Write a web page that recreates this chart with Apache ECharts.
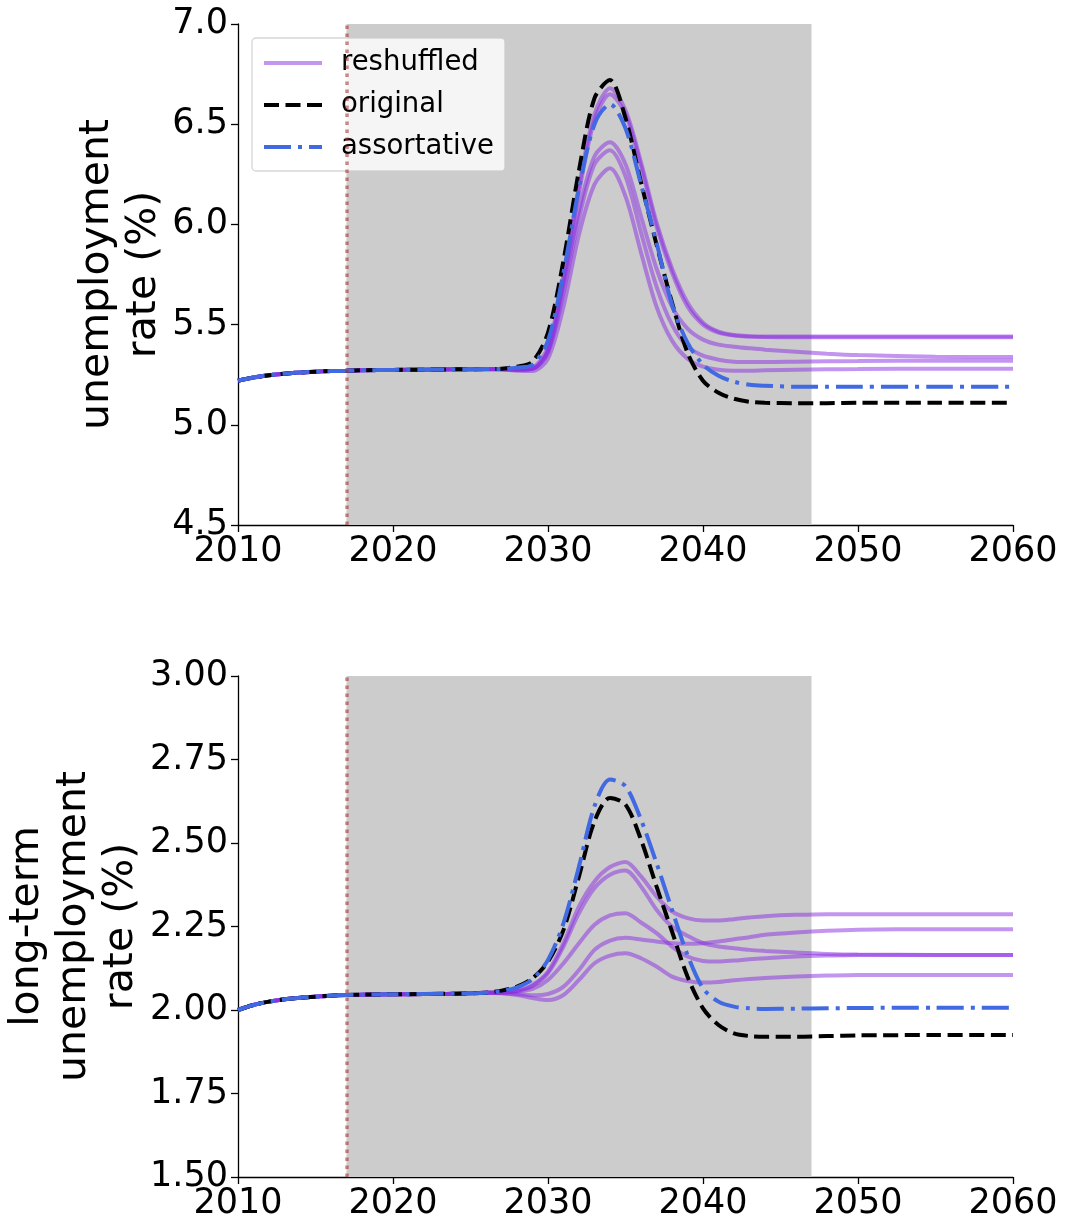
<!DOCTYPE html>
<html>
<head>
<meta charset="utf-8">
<script src="https://cdn.jsdelivr.net/npm/echarts@6/dist/echarts.min.js"></script>
<style>
html,body{margin:0;padding:0;background:#fff;}
#chart{width:1068px;height:1232px;}
</style>
</head>
<body>
<div id="chart"></div>
<script>
// ---------------- data ----------------
const years = [2010,2011,2012,2013,2014,2015,2016,2017,2018,2020,2022,2024,2026,
  2027,2028,2029,2030,2031,2032,2033,2034,2035,2036,2037,2038,2039,2040,2041,2042,2043,2044,
  2046,2048,2050,2055,2060];

// top panel: unemployment rate (%)
const topBase = [5.220,5.236,5.247,5.255,5.261,5.265,5.268,5.270,5.272,5.274,5.275,5.277,5.278];
const topReshuffled1 = topBase.concat([5.278,5.278,5.285,5.39,5.74,6.19,6.55,6.68,6.57,6.31,6.01,5.78,5.61,5.51,5.465,5.448,5.442,5.44,5.44,5.44,5.44,5.44,5.44]);
const topReshuffled2 = topBase.concat([5.278,5.276,5.280,5.37,5.72,6.16,6.52,6.65,6.55,6.29,5.99,5.76,5.59,5.50,5.46,5.445,5.44,5.438,5.437,5.437,5.437,5.437,5.437]);
const topReshuffled3 = topBase.concat([5.277,5.275,5.280,5.37,5.69,6.07,6.34,6.41,6.30,6.04,5.78,5.59,5.48,5.425,5.40,5.39,5.382,5.375,5.365,5.355,5.348,5.34,5.338]);
const topReshuffled4 = topBase.concat([5.277,5.274,5.278,5.36,5.66,6.03,6.30,6.37,6.24,5.96,5.69,5.50,5.39,5.345,5.325,5.315,5.313,5.313,5.315,5.317,5.318,5.32,5.32]);
const topReshuffled5 = topBase.concat([5.276,5.270,5.268,5.33,5.59,5.95,6.20,6.28,6.14,5.86,5.59,5.42,5.33,5.29,5.275,5.27,5.27,5.272,5.275,5.277,5.278,5.28,5.28]);
const topOriginal = topBase.concat([5.280,5.290,5.315,5.46,5.82,6.27,6.63,6.72,6.53,6.21,5.90,5.61,5.36,5.22,5.16,5.13,5.115,5.11,5.108,5.108,5.11,5.11,5.11]);
const topAssortative = topBase.concat([5.279,5.285,5.300,5.42,5.76,6.18,6.50,6.60,6.48,6.20,5.91,5.60,5.41,5.30,5.245,5.215,5.20,5.195,5.19,5.19,5.19,5.19,5.19]);

// bottom panel: long-term unemployment rate (%)
const botBase = [2.000,2.015,2.025,2.032,2.037,2.040,2.043,2.045,2.046,2.047,2.048,2.049,2.052];
const botReshuffled1 = botBase.concat([2.053,2.058,2.075,2.115,2.20,2.31,2.385,2.428,2.443,2.40,2.34,2.295,2.275,2.268,2.268,2.272,2.277,2.281,2.285,2.287,2.287,2.287,2.287]);
const botReshuffled2 = botBase.concat([2.053,2.057,2.072,2.11,2.19,2.29,2.365,2.405,2.418,2.37,2.30,2.25,2.222,2.20,2.19,2.185,2.18,2.177,2.172,2.168,2.166,2.165,2.165]);
const botReshuffled3 = botBase.concat([2.052,2.055,2.063,2.09,2.14,2.20,2.255,2.283,2.29,2.262,2.23,2.19,2.16,2.147,2.145,2.148,2.152,2.155,2.16,2.163,2.165,2.165,2.165]);
const botReshuffled4 = botBase.concat([2.051,2.048,2.044,2.048,2.07,2.12,2.18,2.208,2.216,2.211,2.205,2.20,2.198,2.20,2.205,2.212,2.218,2.225,2.232,2.237,2.24,2.242,2.242]);
const botReshuffled5 = botBase.concat([2.050,2.045,2.036,2.030,2.045,2.09,2.14,2.163,2.17,2.155,2.13,2.10,2.087,2.082,2.084,2.089,2.093,2.096,2.10,2.103,2.105,2.105,2.105]);
const botOriginal = botBase.concat([2.058,2.070,2.095,2.145,2.24,2.40,2.565,2.635,2.615,2.51,2.37,2.235,2.10,2.005,1.955,1.93,1.922,1.92,1.92,1.922,1.924,1.925,1.925]);
const botAssortative = botBase.concat([2.057,2.068,2.092,2.15,2.26,2.43,2.61,2.69,2.67,2.57,2.44,2.30,2.165,2.065,2.025,2.01,2.005,2.003,2.004,2.005,2.006,2.007,2.007]);

const xTicks = [2010,2020,2030,2040,2050,2060];
const yTicksTop = [4.5,5.0,5.5,6.0,6.5,7.0];
const yTicksBot = [1.50,1.75,2.00,2.25,2.50,2.75,3.00];
const shockStart = 2017, shockEnd = 2047;
const seriesNames = ['reshuffled','original','assortative'];
const yLabels = ['unemployment\nrate (%)','long-term\nunemployment\nrate (%)'];

// ---------------- chart ----------------
const FONT = 'DejaVu Sans';
const PURPLE = 'rgba(138,43,226,0.5)';
const BLACK = '#000000';
const BLUE = '#4169e1';

function pairs(arr){ return years.map((y,i)=>[y, arr[i]]); }

function xAxisCfg(idx){
  return {
    type:'value', gridIndex:idx, min:xTicks[0], max:xTicks[xTicks.length-1],
    interval:xTicks[1]-xTicks[0],
    axisLine:{show:true,onZero:false,lineStyle:{color:'#000',width:1.3}},
    axisTick:{show:true,length:7,lineStyle:{color:'#000',width:1.3}},
    axisLabel:{show:true,color:'#000',fontSize:35,fontFamily:FONT,margin:9,
      formatter:(v)=>String(Math.round(v))},
    splitLine:{show:false}
  };
}
function yAxisCfg(idx, ticks, dec, name, gap){
  return {
    type:'value', gridIndex:idx, min:ticks[0], max:ticks[ticks.length-1],
    interval:ticks[1]-ticks[0],
    name:name, nameLocation:'middle', nameRotate:90, nameGap:gap, nameMoveOverlap:false,
    nameTextStyle:{color:'#000',fontSize:41,fontFamily:FONT,lineHeight:47},
    axisLine:{show:true,onZero:false,lineStyle:{color:'#000',width:1.3}},
    axisTick:{show:true,length:7,lineStyle:{color:'#000',width:1.3}},
    axisLabel:{show:true,color:'#000',fontSize:35,fontFamily:FONT,margin:10,
      formatter:(v)=>Number(v).toFixed(dec)},
    splitLine:{show:false}
  };
}

function markSeries(idx){
  return {
    type:'line', xAxisIndex:idx, yAxisIndex:idx, data:[], z:1, silent:true,
    markArea:{silent:true, itemStyle:{color:'#cccccc'}, data:[[{xAxis:shockStart},{xAxis:shockEnd}]]},
    markLine:{silent:true, symbol:['none','none'], label:{show:false},
      lineStyle:{color:'rgba(165,42,42,0.55)',width:3.5,type:[3.5,4.5]},
      data:[{xAxis:shockStart}]}
  };
}
function lineSeries(idx, name, arr, color, dash){
  return {
    type:'line', name:name, xAxisIndex:idx, yAxisIndex:idx, data:pairs(arr),
    showSymbol:false, symbol:'none', smooth:0.3, z:2,
    lineStyle:{color:color,width:4,type:dash||'solid'},
    itemStyle:{color:color},
    emphasis:{disabled:true}
  };
}

const series = [markSeries(0), markSeries(1)];
[topReshuffled1,topReshuffled2,topReshuffled3,topReshuffled4,topReshuffled5].forEach(a=>series.push(lineSeries(0,seriesNames[0],a,PURPLE)));
series.push(lineSeries(0,seriesNames[1],topOriginal,BLACK,[15,6.5]));
series.push(lineSeries(0,seriesNames[2],topAssortative,BLUE,[27,7,4,7]));
[botReshuffled1,botReshuffled2,botReshuffled3,botReshuffled4,botReshuffled5].forEach(a=>series.push(lineSeries(1,seriesNames[0],a,PURPLE)));
series.push(lineSeries(1,seriesNames[1],botOriginal,BLACK,[15,6.5]));
series.push(lineSeries(1,seriesNames[2],botAssortative,BLUE,[27,7,4,7]));

const chart = echarts.init(document.getElementById('chart'), null, {renderer:'canvas'});
chart.setOption({
  animation:false,
  backgroundColor:'#ffffff',
  grid:[
    {left:238, top:24, width:775, height:501, containLabel:false, outerBoundsMode:'none'},
    {left:238, top:676, width:775, height:501, containLabel:false, outerBoundsMode:'none'}
  ],
  xAxis:[xAxisCfg(0), xAxisCfg(1)],
  yAxis:[yAxisCfg(0,yTicksTop,1,yLabels[0],70), yAxisCfg(1,yTicksBot,2,yLabels[1],93)],
  legend:{
    data:seriesNames, orient:'vertical', left:252, top:38,
    backgroundColor:'rgba(255,255,255,0.8)', borderColor:'rgba(204,204,204,0.8)', borderWidth:1.3, borderRadius:4,
    padding:[10,11,9,10], itemWidth:58, itemHeight:14, itemGap:12,
    itemStyle:{opacity:0},
    lineStyle:{width:4},
    textStyle:{color:'#000',fontSize:27.5,fontFamily:FONT,lineHeight:30,padding:[0,0,0,14]},
    selectedMode:false
  },
  series:series
});
</script>
</body>
</html>
